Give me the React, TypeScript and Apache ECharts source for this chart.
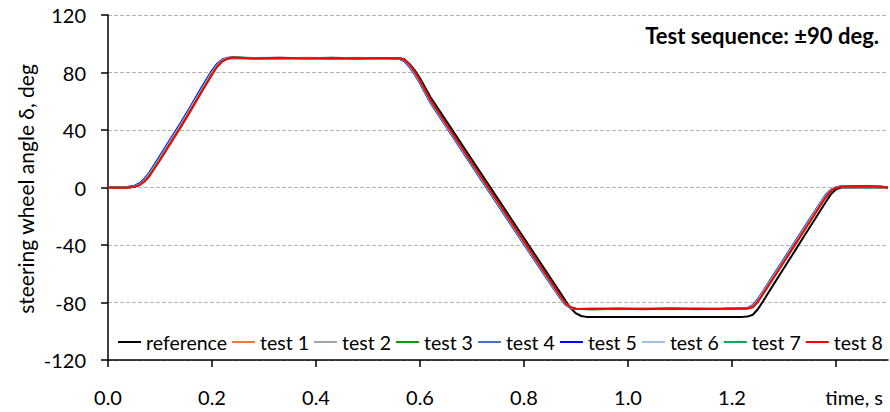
import React, { useEffect, useRef } from "react";
import * as echarts from "echarts";

const seriesNames = ["reference", "test 1", "test 2", "test 3", "test 4", "test 5", "test 6", "test 7", "test 8"];
const seriesColors = ["#000000", "#ED7D31", "#A5A5A5", "#00A000", "#4472C4", "#0000FF", "#9DC3E6", "#00B050", "#FF0000"];

const xTicks = [0, 0.2, 0.4, 0.6, 0.8, 1.0, 1.2, 1.4];
const xLabels = [0, 0.2, 0.4, 0.6, 0.8, 1.0, 1.2];

const refT = [0, 0.04, 0.05, 0.06, 0.07, 0.08, 0.10, 0.12, 0.14, 0.16, 0.18, 0.20, 0.21, 0.22, 0.23, 0.24, 0.25,
  0.56, 0.57, 0.58, 0.59, 0.60, 0.62, 0.66, 0.70, 0.74, 0.78, 0.82, 0.86, 0.88, 0.89, 0.90, 0.91, 0.92,
  1.22, 1.23, 1.24, 1.25, 1.26, 1.28, 1.30, 1.32, 1.34, 1.36, 1.38, 1.39, 1.40, 1.41, 1.42, 1.50];
const refV = [0, 0, 0.6, 2, 5, 9, 20, 31.5, 43, 55, 67, 79, 84.5, 88.2, 89.7, 90, 90,
  90, 89.2, 86, 81.5, 76, 62.9, 41.1, 19.3, -2.5, -24.3, -46.1, -67.9, -78.8, -84, -87.6, -89.4, -90,
  -90, -89.8, -88.5, -84.5, -79, -67.4, -56, -44.6, -33.1, -21.7, -10.3, -4.8, -1.2, 0, 0, 0];

const testT = [0, 0.03, 0.05, 0.06, 0.07, 0.08, 0.10, 0.12, 0.14, 0.16, 0.18, 0.20, 0.21, 0.22, 0.23, 0.24,
  0.28, 0.33, 0.38, 0.43, 0.48, 0.53, 0.56, 0.57, 0.58, 0.59, 0.60, 0.62, 0.66, 0.70, 0.74, 0.78, 0.82, 0.86,
  0.87, 0.88, 0.89, 0.90, 0.93, 0.98, 1.03, 1.08, 1.13, 1.18, 1.23, 1.24, 1.25, 1.26, 1.28, 1.30, 1.32, 1.34,
  1.36, 1.38, 1.39, 1.40, 1.41, 1.44, 1.47, 1.50];

const test1 = [0, 0, 0.6, 2.2, 5, 9.5, 20.5, 32, 43.5, 55.5, 68, 80, 85, 88.4, 89.9, 90.3,
  90, 89.8, 90.2, 89.9, 90.1, 89.9, 89.8, 88.5, 84.8, 79.5, 73.5, 60, 38, 16, -5.8, -27.6, -49.4, -71,
  -76.3, -81, -83.6, -84.4, -84.5, -84.6, -84.3, -84.6, -84.4, -84.5, -84, -82.5, -78.5, -73, -61.8, -50.6, -39.4, -28.2,
  -17, -6, -2, 0, 0.6, 1.0, 0.8, 0.2];
const test2 = [0, 0.1, 0.7, 2.4, 5.3, 9.8, 21, 32.5, 44, 56, 68.5, 80.5, 85.4, 88.6, 90, 90.2,
  89.9, 90.1, 89.8, 90.2, 89.9, 90.0, 89.7, 88.2, 84.3, 79, 73, 59.5, 37.5, 15.5, -6.3, -28, -49.8, -71.4,
  -76.8, -81.3, -83.8, -84.5, -84.4, -84.7, -84.5, -84.3, -84.6, -84.4, -83.9, -82.2, -78, -72.5, -61.3, -50.1, -38.9, -27.7,
  -16.5, -5.6, -1.8, 0.1, 0.7, 1.1, 0.9, 0.1];
const test3 = [0, 0, 0.5, 2.0, 4.8, 9.2, 20.2, 31.7, 43.2, 55.2, 67.6, 79.6, 84.8, 88.2, 89.8, 90.4,
  90.1, 89.8, 90.0, 90.2, 89.8, 90.1, 89.8, 88.6, 85.0, 79.8, 73.8, 60.3, 38.3, 16.3, -5.5, -27.3, -49.1, -70.7,
  -76.1, -80.8, -83.5, -84.4, -84.8, -84.4, -84.6, -84.2, -84.7, -84.3, -84.1, -82.8, -78.8, -73.3, -62.1, -50.9, -39.7, -28.5,
  -17.3, -6.3, -2.1, 0, 0.6, 1.0, 0.9, 0.2];
const test4 = [0, 0.1, 0.8, 2.6, 5.6, 10.2, 21.5, 33, 44.5, 56.5, 69, 81, 85.8, 88.8, 90.1, 90.3,
  90.0, 90.2, 89.9, 90.0, 90.1, 89.9, 89.6, 87.9, 83.8, 78.5, 72.5, 59, 37, 15, -6.8, -28.6, -50.4, -71.9,
  -77.2, -81.6, -84, -84.6, -84.5, -84.3, -84.6, -84.5, -84.4, -84.6, -83.8, -81.8, -77.5, -72, -60.8, -49.6, -38.4, -27.2,
  -16, -5.2, -1.6, 0.2, 0.8, 1.1, 0.8, 0.1];
const test5 = [0, 0, 0.9, 2.8, 6, 10.6, 22, 33.5, 45, 57, 69.5, 81.4, 86.1, 89, 90.2, 90.4,
  89.9, 90.0, 90.1, 89.8, 90.0, 90.1, 89.7, 88.0, 84.0, 78.8, 72.8, 59.3, 37.3, 15.3, -6.5, -28.3, -50.1, -71.6,
  -77, -81.4, -83.9, -84.5, -84.3, -84.6, -84.4, -84.6, -84.3, -84.5, -83.9, -82, -77.8, -72.3, -61.1, -49.9, -38.7, -27.5,
  -16.3, -5.4, -1.7, 0.1, 0.7, 1.0, 0.9, 0.1];
const test6 = [0, 0, 0.6, 2.2, 5.1, 9.6, 20.8, 32.3, 43.8, 55.8, 68.2, 80.2, 85.2, 88.5, 89.9, 90.3,
  90.1, 89.9, 90.1, 89.9, 90.2, 89.9, 89.8, 88.4, 84.6, 79.3, 73.3, 59.8, 37.8, 15.8, -6, -27.8, -49.6, -71.2,
  -76.6, -81.2, -83.7, -84.4, -84.6, -84.5, -84.4, -84.7, -84.5, -84.3, -84.0, -82.4, -78.3, -72.8, -61.6, -50.4, -39.2, -28,
  -16.8, -5.8, -1.9, 0.1, 0.7, 1.1, 0.8, 0.2];
const test7 = [0, -0.1, 0.4, 1.8, 4.5, 8.8, 19.8, 31.2, 42.7, 54.7, 67.1, 79.1, 84.5, 88.0, 89.7, 90.4,
  89.9, 90.1, 90.0, 89.9, 90.1, 90.0, 89.9, 88.8, 85.2, 80.1, 74.1, 60.6, 38.6, 16.6, -5.2, -27, -48.8, -70.4,
  -75.9, -80.6, -83.4, -84.3, -84.5, -84.5, -84.6, -84.3, -84.5, -84.6, -84.1, -83.0, -79.1, -73.6, -62.5, -51.3, -40.1, -28.9,
  -17.7, -6.6, -2.3, -0.1, 0.6, 1.0, 0.9, 0.1];
const test8 = [0, -0.2, 0.3, 1.5, 4, 8, 19, 30.5, 42, 54, 66.5, 78.5, 84, 87.8, 89.6, 90.4,
  89.8, 90.2, 89.8, 90.1, 89.7, 90.1, 89.9, 89, 85.5, 80.5, 74.5, 61, 39, 17, -4.7, -26.5, -48.3, -70,
  -75.5, -80.5, -83.3, -84.3, -84.6, -84.2, -84.7, -84.1, -84.6, -84.3, -84.2, -83.3, -79.5, -74, -63, -51.8, -40.6, -29.4,
  -18.2, -7, -2.5, -0.3, 0.5, 1.0, 0.9, 0];

const FONT = "Lato, 'DejaVu Sans', sans-serif";

function pairs(t: number[], v: number[]) {
  const out: number[][] = [];
  for (let i = 0; i < Math.min(t.length, v.length); i++) out.push([t[i], v[i]]);
  return out;
}

export default function App() {
  const ref = useRef<HTMLDivElement>(null);
  useEffect(() => {
    document.body.style.margin = "0";
    if (!ref.current) return;
    const chart = echarts.init(ref.current, null, { renderer: "svg" });
    const allData = [pairs(refT, refV), ...[test1, test2, test3, test4, test5, test6, test7, test8].map((v) => pairs(testT, v))];
    chart.setOption({
      animation: false,
      textStyle: { fontFamily: FONT },
      grid: { left: 108, right: 2, top: 15, bottom: 52 },
      legend: {
        data: seriesNames.map((n) => ({ name: n, icon: "rect" })),
        left: 118,
        top: 332,
        width: 772,
        padding: 0,
        itemWidth: 23,
        itemHeight: 2,
        itemGap: 5,
        textStyle: { fontSize: 19.5, color: "#000", fontFamily: FONT },
      },
      graphic: [
        {
          type: "text",
          right: 11,
          top: 24,
          style: { text: "Test sequence: ±90 deg.", font: "bold 22px " + FONT, fill: "#000" },
        },
        {
          type: "text",
          x: 25,
          y: 189,
          rotation: Math.PI / 2,
          style: {
            text: "steering wheel angle δ, deg",
            font: "21px " + FONT,
            fill: "#000",
            align: "center",
            verticalAlign: "middle",
          },
        },
      ],
      xAxis: {
        type: "value",
        min: 0,
        max: 1.5,
        interval: 0.2,
        name: "time, s",
        nameLocation: "end",
        nameGap: -5,
        nameTextStyle: { fontSize: 20, color: "#000", align: "right", verticalAlign: "top", padding: [27, 0, 0, 0], fontFamily: FONT },
        axisLine: { onZero: false, lineStyle: { color: "#000", width: 1.5 } },
        axisTick: { show: true, inside: false, length: 7, customValues: xTicks, lineStyle: { color: "#000", width: 1.5 } },
        axisLabel: {
          customValues: xLabels,
          margin: 27,
          fontSize: 20,
          color: "#000",
          fontFamily: FONT,
          formatter: (v: number) => v.toFixed(1),
        },
        splitLine: { show: false },
      },
      yAxis: {
        type: "value",
        min: -120,
        max: 120,
        interval: 40,
        axisLine: { show: true, lineStyle: { color: "#000", width: 1.5 } },
        axisTick: { show: true, inside: false, length: 7, lineStyle: { color: "#000", width: 1.5 } },
        axisLabel: { margin: 22, fontSize: 20, color: "#000", fontFamily: FONT },
        splitLine: { show: true, lineStyle: { color: "#B4B4B4", width: 1, type: [4, 2] } },
      },
      series: seriesNames.map((name, i) => ({
        name,
        type: "line",
        data: allData[i],
        showSymbol: false,
        symbol: "none",
        lineStyle: { color: seriesColors[i], width: 2 },
        itemStyle: { color: seriesColors[i] },
        z: 2 + i,
      })),
    });
    return () => chart.dispose();
  }, []);
  return <div ref={ref} style={{ width: 890, height: 412 }} />;
}
